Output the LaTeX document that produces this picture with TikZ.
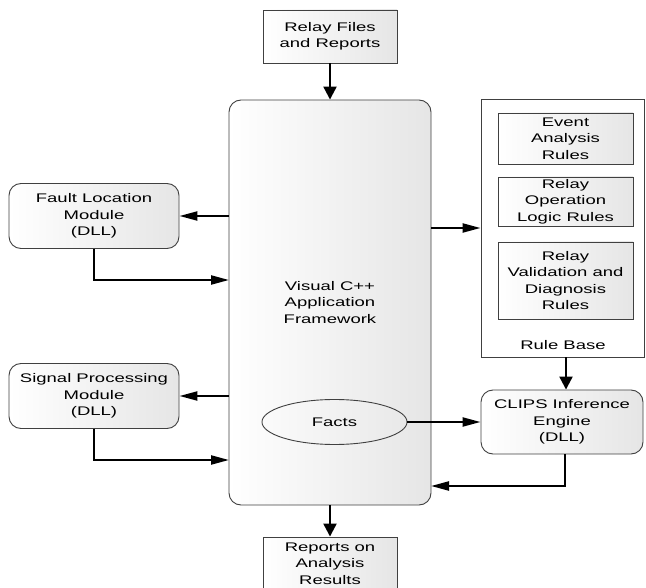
\documentclass[tikz,border=0pt]{standalone}
\usepackage{fontspec}
\newfontfamily\wide[FakeStretch=1.48]{Liberation Sans}
\usetikzlibrary{shapes.geometric,arrows.meta,calc}

\tikzset{
  base/.style={draw=black!75, line width=0.9pt, align=center, inner sep=0pt,
    left color=white, right color=black!10, text=black,
    font=\wide\fontsize{12.5}{16.5}\selectfont},
  plainbox/.style={base, rectangle},
  roundbox/.style={base, rectangle, rounded corners=12pt},
  % horizontal and vertical flows use differently proportioned heads
  hflow/.style={line width=2.2pt, -{Triangle[length=18pt,width=9pt]}},
  vflow/.style={line width=2.2pt, -{Triangle[length=13pt,width=13pt]}},
}

\begin{document}
\begin{tikzpicture}[x=1pt,y=-1pt]
\useasboundingbox (0,0) rectangle (646,588);
\clip (0,0) rectangle (646,588);

% application framework
\node[roundbox, minimum width=202pt, minimum height=405pt] (main) at (330,302.5)
  {Visual C++\\Application\\Framework};
\node[draw=black!75, line width=0.9pt, ellipse, inner sep=0pt,
  font=\wide\fontsize{12.5}{16.5}\selectfont,
  minimum width=145pt, minimum height=45pt] (facts) at (334.5,422) {Facts};

% inputs and outputs
\node[plainbox, minimum width=134pt, minimum height=53pt] (files) at (330,36.5)
  {Relay Files\\and Reports};
\node[plainbox, minimum width=134pt, minimum height=53pt] (reports) at (330,563.5)
  {Reports on\\Analysis\\Results};

% DLL modules on the left
\node[roundbox, minimum width=170pt, minimum height=65pt] (fault) at (94,216)
  {Fault Location\\Module\\(DLL)};
\node[roundbox, minimum width=170pt, minimum height=65pt] (signal) at (94,396)
  {Signal Processing\\Module\\(DLL)};

% rule base
\node[draw=black!75, line width=0.9pt, fill=white, minimum width=163pt,
  minimum height=258pt] (rulebase) at (562.5,228) {};
\node[font=\wide\fontsize{12.5}{16.5}\selectfont, inner sep=0pt] (rblabel) at (563,345) {Rule Base};
\node[plainbox, minimum width=135pt, minimum height=51pt] (event) at (565.5,138.5)
  {Event\\Analysis\\Rules};
\node[plainbox, minimum width=135pt, minimum height=49pt] (oplogic) at (565.5,201.5)
  {Relay\\Operation\\Logic Rules};
\node[plainbox, minimum width=135pt, minimum height=77pt] (valid) at (565.5,280.5)
  {Relay\\Validation and\\Diagnosis\\Rules};

% inference engine
\node[roundbox, minimum width=162pt, minimum height=64pt] (clips) at (562,422)
  {CLIPS Inference\\Engine\\(DLL)};

% return points on the framework border
\coordinate (faultin) at (229,280);
\coordinate (signalin) at (229,460);
\coordinate (clipsin) at (431,486);

% connectors
\draw[vflow] (files) -- (main);
\draw[vflow] (main) -- (reports);
\draw[hflow] (main.west |- fault.east) -- (fault.east);
\draw[hflow] (fault.south) |- (faultin);
\draw[hflow] (main.west |- signal.east) -- (signal.east);
\draw[hflow] (signal.south) |- (signalin);
\draw[hflow] (main.east |- rulebase.west) -- (rulebase.west);
\draw[vflow] ([xshift=3.5pt]rulebase.south) -- ([xshift=3.5pt]rulebase.south |- clips.north);
\draw[hflow] (facts.east) -- (clips.west |- facts.east);
\draw[hflow] ([xshift=3pt]clips.south) |- (clipsin);
\end{tikzpicture}
\end{document}
